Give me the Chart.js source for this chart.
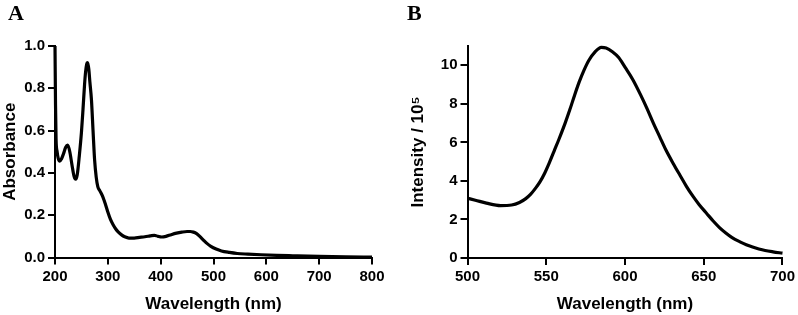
<!DOCTYPE html>
<html>
<head>
<meta charset="utf-8">
<script src="https://cdn.jsdelivr.net/npm/chart.js@4/dist/chart.umd.min.js"></script>
<style>
  html, body { margin:0; padding:0; background:#fff; }
  #wrap { position:relative; width:798px; height:315px; overflow:hidden; }
  .pane { position:absolute; top:0; height:315px; }
  .lbl { position:absolute; font-family:"Liberation Serif","Times New Roman",serif; font-weight:bold; font-size:22px; color:#000; line-height:1; }
</style>
</head>
<body>
<div id="wrap">
  <div class="pane" style="left:0;width:400px;"><canvas id="cA" width="400" height="315"></canvas></div>
  <div class="pane" style="left:400px;width:398px;"><canvas id="cB" width="398" height="315"></canvas></div>
  <div class="lbl" style="left:8px;top:2px;">A</div>
  <div class="lbl" style="left:407px;top:2px;">B</div>
</div>
<script>
// ---- Panel A: absorbance spectrum ----
const wavelengthA = [200,201,202,204,206,209,212,216,220,224,228,232,236,239,242,246,250,253,256,258,260,261,262,264,266,269,272,275,278,281,285,290,295,300,305,310,315,320,326,332,340,350,360,370,380,388,395,402,410,420,430,440,450,456,462,468,474,480,487,495,505,515,530,545,565,590,620,650,700,750,800];
const absorbanceA = [1.0,0.72,0.56,0.5,0.47,0.455,0.465,0.49,0.52,0.532,0.5,0.44,0.385,0.37,0.39,0.48,0.59,0.70,0.82,0.88,0.915,0.921,0.918,0.89,0.83,0.745,0.6,0.46,0.38,0.335,0.315,0.29,0.255,0.215,0.18,0.155,0.135,0.12,0.107,0.098,0.092,0.092,0.095,0.098,0.102,0.105,0.1,0.097,0.1,0.108,0.115,0.12,0.123,0.123,0.12,0.113,0.1,0.085,0.068,0.053,0.04,0.031,0.024,0.019,0.016,0.013,0.01,0.008,0.005,0.003,0.002];
const xTicksA = [200,300,400,500,600,700,800];
const yTicksA = [0,0.2,0.4,0.6,0.8,1.0];

// ---- Panel B: emission spectrum ----
const wavelengthB = [500,505,512,521,528,533,537,540,543,546,549,552,555,558,562,565,568,571,574,577,581,585,588,592,596,600,605,610,614,618,622,626,630.5,635,639,643,647,652,656,660,664,668,673,677,681,685,689,694,700];
const intensityB = [3.1,3.0,2.85,2.72,2.75,2.88,3.08,3.3,3.6,3.95,4.4,4.95,5.55,6.15,7.0,7.7,8.45,9.15,9.75,10.25,10.7,10.93,10.9,10.7,10.4,9.9,9.25,8.45,7.75,7.0,6.3,5.6,4.92,4.28,3.72,3.22,2.78,2.3,1.92,1.58,1.3,1.06,0.84,0.69,0.57,0.47,0.39,0.32,0.25];
const xTicksB = [500,550,600,650,700];
const yTicksB = [0,2,4,6,8,10];

const FONT = "'Liberation Sans', Arial, sans-serif";

function makeChart(id, xs, ys, opt) {
  const pts = xs.map((x, i) => ({x: x, y: ys[i]}));
  return new Chart(document.getElementById(id), {
    type: 'line',
    data: { datasets: [{ data: pts, borderColor: '#000', borderWidth: 3.2, pointRadius: 0, cubicInterpolationMode: 'monotone', fill: false, clip: false }] },
    options: {
      responsive: false, animation: false,
      layout: { padding: opt.padding },
      plugins: { legend: { display: false }, tooltip: { enabled: false } },
      scales: {
        x: {
          type: 'linear', min: opt.xmin, max: opt.xmax,
          afterBuildTicks: s => { s.ticks = opt.xTicks.map(v => ({value: v})); },
          afterFit: s => { s.height = opt.xAxisH; },
          border: { display: true, color: '#000', width: 2 },
          grid: { drawOnChartArea: false, drawTicks: true, tickLength: 7, color: '#000', lineWidth: 2 },
          ticks: { color: '#000', font: { family: FONT, size: 15, weight: 'bold' }, padding: 3, maxRotation: 0, autoSkip: false },
          title: { display: true, text: 'Wavelength (nm)', color: '#000', font: { family: FONT, size: 17, weight: 'bold' }, padding: { top: 2, bottom: 0 } }
        },
        y: {
          type: 'linear', min: opt.ymin, max: opt.ymax,
          afterBuildTicks: s => { s.ticks = opt.yTicks.map(v => ({value: v})); },
          afterFit: s => { s.width = opt.yAxisW; },
          border: { display: true, color: '#000', width: 2 },
          grid: { drawOnChartArea: false, drawTicks: true, tickLength: 7, color: '#000', lineWidth: 2 },
          ticks: { color: '#000', font: { family: FONT, size: 15, weight: 'bold' }, padding: 3, autoSkip: false, callback: opt.yFmt },
          title: { display: true, text: opt.yTitle, color: '#000', font: { family: FONT, size: 17, weight: 'bold' }, padding: { top: 0, bottom: 2 } }
        }
      }
    }
  });
}

makeChart('cA', wavelengthA, absorbanceA, {
  xmin: 200, xmax: 800, ymin: 0, ymax: 1.0,
  xTicks: xTicksA, yTicks: yTicksA,
  yFmt: v => Number(v).toFixed(1),
  yTitle: 'Absorbance',
  padding: { left: 0, right: 28, top: 46, bottom: 0 },
  xAxisH: 57.5, yAxisW: 55
});

makeChart('cB', wavelengthB, intensityB, {
  xmin: 500, xmax: 700, ymin: 0, ymax: 11,
  xTicks: xTicksB, yTicks: yTicksB,
  yFmt: v => String(v),
  yTitle: 'Intensity / 10\u2075',
  padding: { left: 8, right: 14.5, top: 46, bottom: 0 },
  xAxisH: 57, yAxisW: 59.5
});
</script>
</body>
</html>
